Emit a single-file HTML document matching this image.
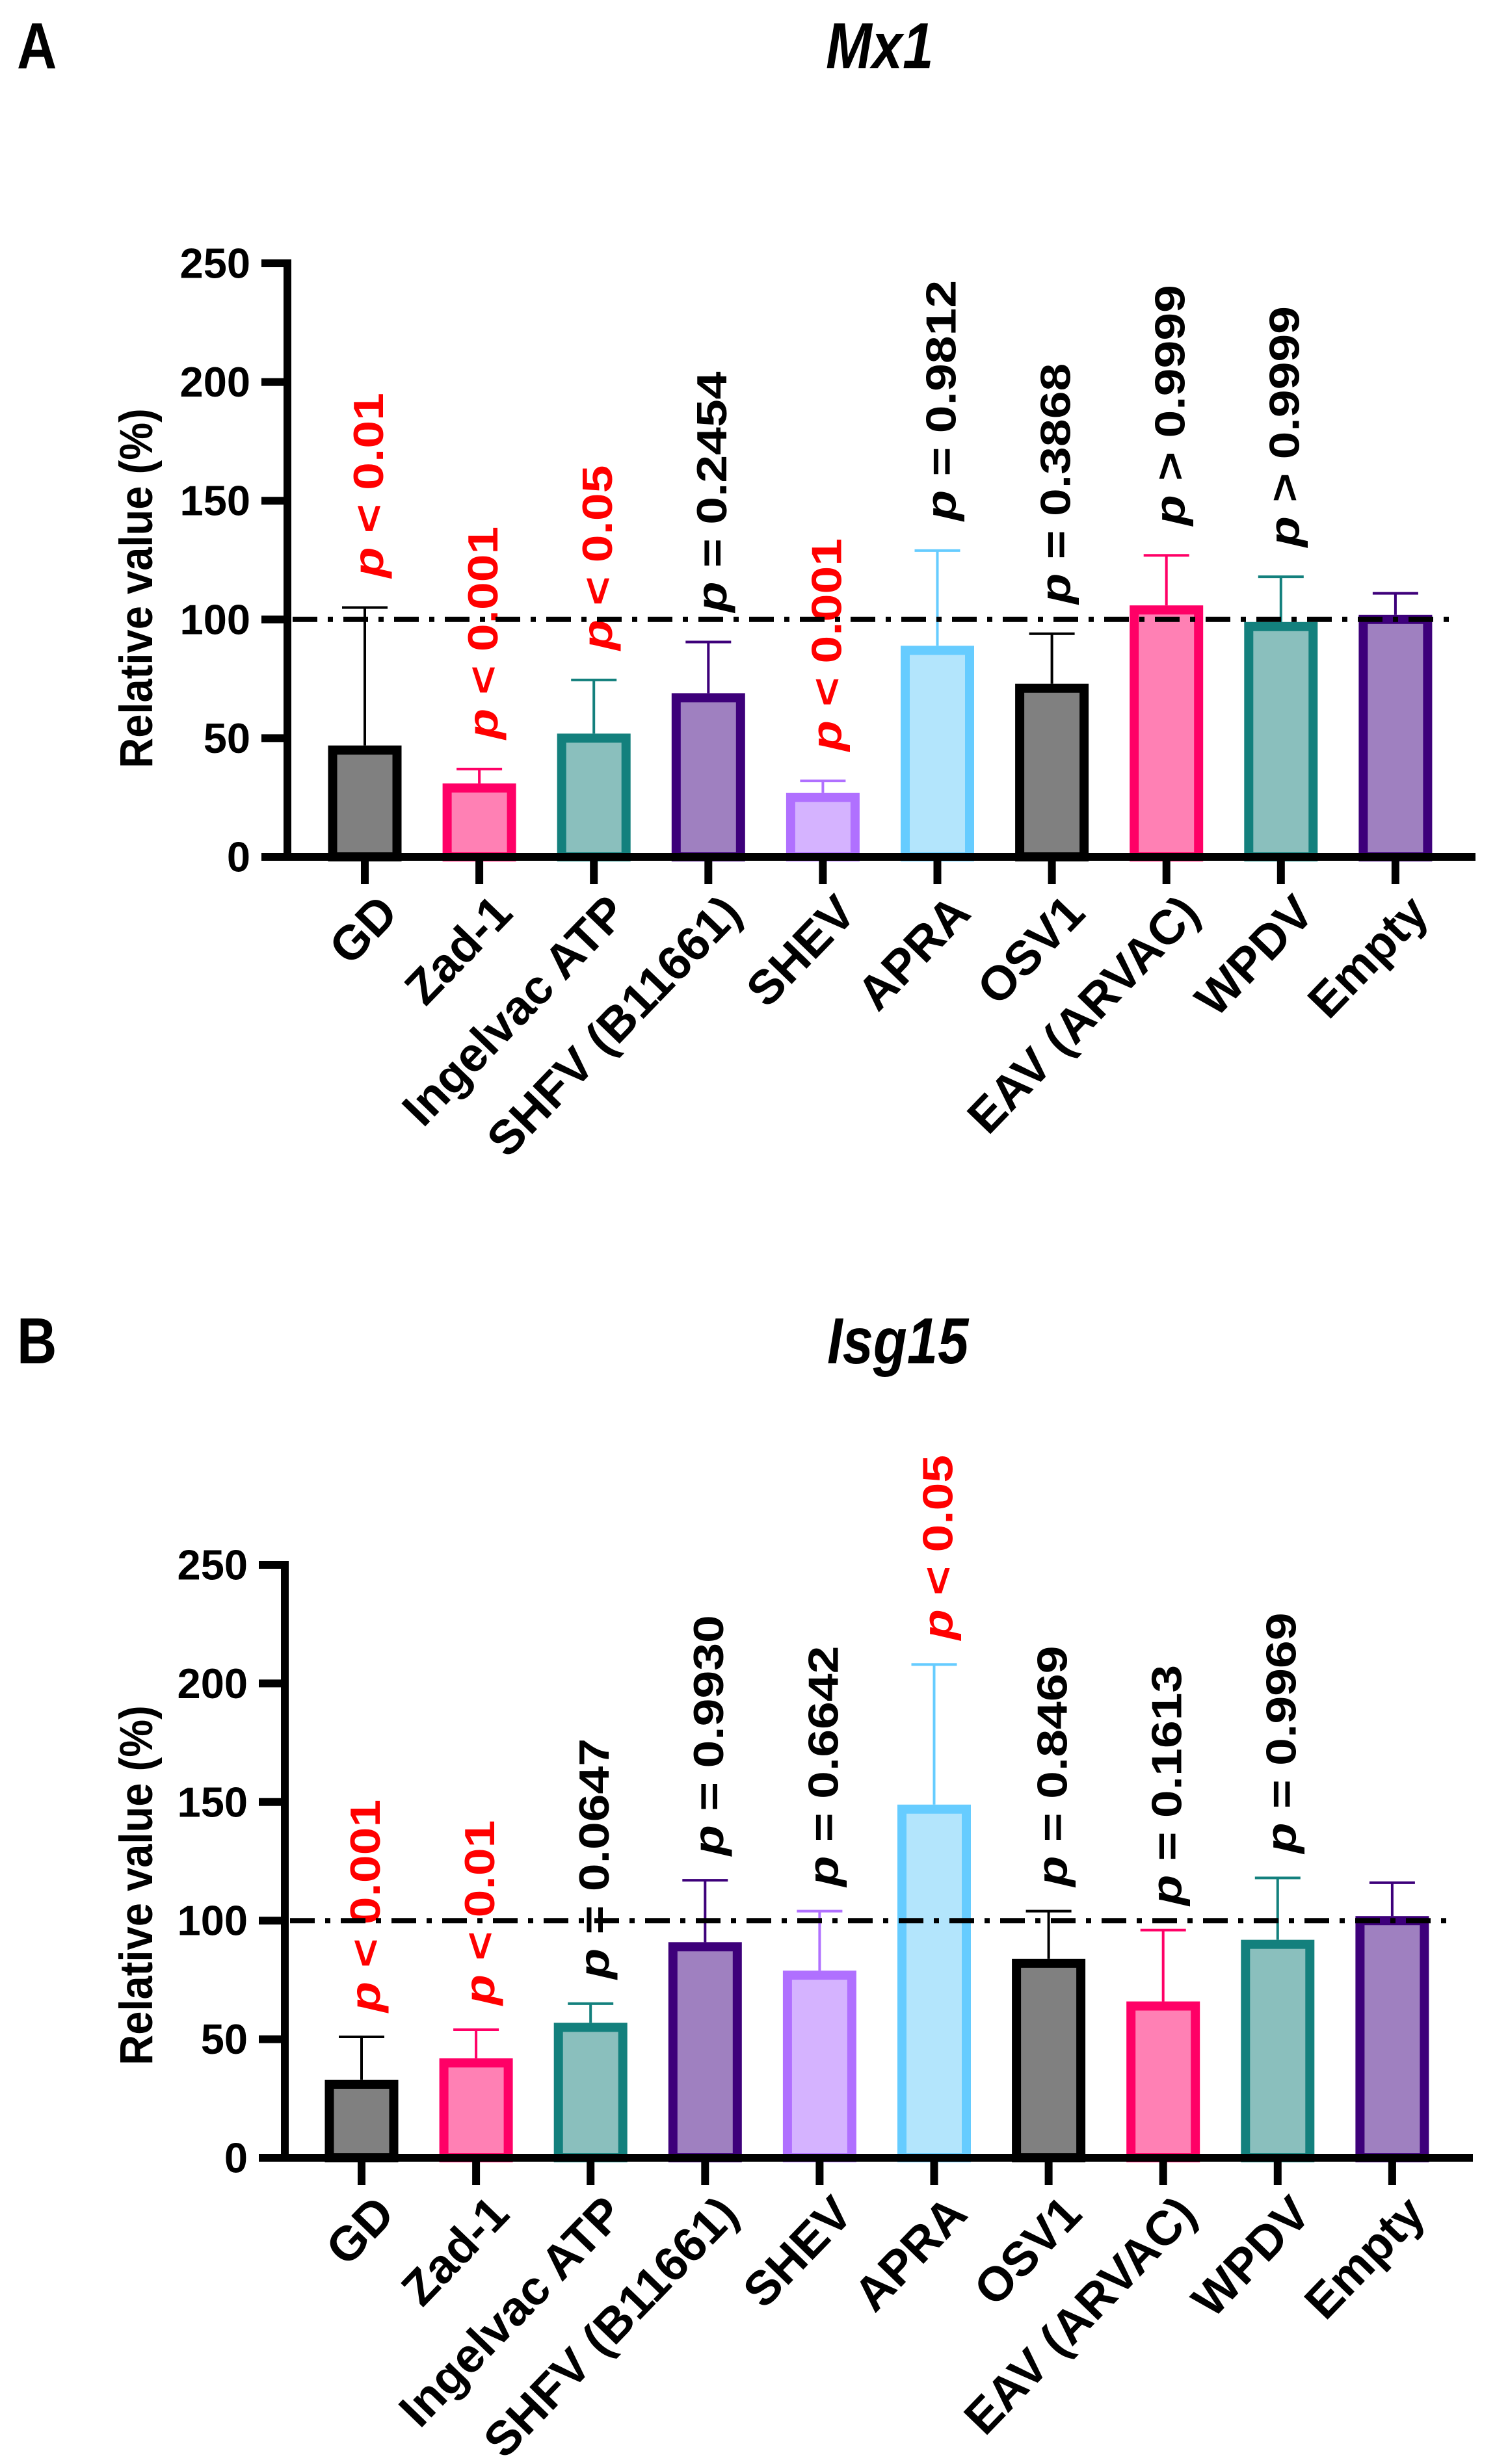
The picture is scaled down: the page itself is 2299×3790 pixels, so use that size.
<!DOCTYPE html>
<html><head><meta charset="utf-8"><style>
html,body{margin:0;padding:0;background:#fff;}
svg{display:block;}
text{font-family:"Liberation Sans",Arial,sans-serif;font-weight:bold;}
</style></head><body>
<svg id="fig" width="2299" height="3790" viewBox="0 0 2299 3790" xmlns="http://www.w3.org/2000/svg">
<text x="0" y="0" font-size="100" transform="translate(26,105) scale(0.85,1)">A</text>
<text x="0" y="0" font-size="100" font-style="italic" transform="translate(1270,105) scale(0.85,1)">Mx1</text>
<text x="0" y="0" font-size="100" transform="translate(26,2097) scale(0.85,1)">B</text>
<text x="0" y="0" font-size="100" font-style="italic" transform="translate(1272,2097) scale(0.85,1)">Isg15</text>
<g id="chartA"></g>
<g id="chartB"></g>
</svg>
<script>
const categories = ["GD","Zad-1","Ingelvac ATP","SHFV (B11661)","SHEV","APRA","OSV1","EAV (ARVAC)","WPDV","Empty"];
const yTicks = [0,50,100,150,200,250];
const yTickLabels = ["0","50","100","150","200","250"];
const mx1Means = [45,29,50,67,25,87,71,104,97,100];
const mx1ErrTops = [105,37,74.5,90.5,32,129,94,127,118,111];
const mx1PLabels = ["< 0.01","< 0.001","< 0.05","= 0.2454","< 0.001","= 0.9812","= 0.3868","> 0.9999","> 0.9999",""];
const mx1Sig = [true,true,true,false,true,false,false,false,false,false];
const isgMeans = [31,40,55,89,77,147,82,64,90,100];
const isgErrTops = [51,54,65,117,104,208,104,96,118,116];
const isgPLabels = ["< 0.001","< 0.01","= 0.0647","= 0.9930","= 0.6642","< 0.05","= 0.8469","= 0.1613","= 0.9969",""];
const isgSig = [true,true,false,false,false,true,false,false,false,false];
const fills = ["#808080","#ff80b4","#8abfbd","#9f80c0","#d5b3ff","#b3e5fc","#808080","#ff80b4","#8abfbd","#9f80c0"];
const strokes = ["#000000","#ff0066","#13807d","#3d007a","#b070ff","#66ccff","#000000","#ff0066","#13807d","#3d007a"];

const NS = "http://www.w3.org/2000/svg";
function mk(parent, tag, attrs){
  const e = document.createElementNS(NS, tag);
  for (const k in attrs) e.setAttribute(k, attrs[k]);
  parent.appendChild(e);
  return e;
}

function drawChart(g, cfg, means, errs, plabels, sig, prefix){
  const yScale = v => cfg.y0 - (v / 250) * (cfg.y0 - cfg.y250);
  const xScale = i => cfg.x0 + i * cfg.step;
  const ya = mk(g, "line", {x1:cfg.ax, y1:cfg.y250 - 6, x2:cfg.ax, y2:cfg.y0 + 6, stroke:"#000", "stroke-width":12});
  
  
  yTicks.forEach((t, i) => {
    const y = yScale(t);
    const tk = mk(g, "line", {x1:cfg.ax - 40, y1:y, x2:cfg.ax, y2:y, stroke:"#000", "stroke-width":12});
    
    
    const tl = mk(g, "text", {x:0, y:0, "font-size":65, "text-anchor":"end", "dominant-baseline":"central",
      transform:`translate(${cfg.ax - 57},${y})`});
    tl.textContent = yTickLabels[i];
    
    
  });
  const yt = mk(g, "text", {x:0, y:0, "font-size":70, "text-anchor":"middle", "dominant-baseline":"central",
    transform:`translate(210,${cfg.yLabelY}) rotate(-90) scale(0.93,1.02)`});
  yt.textContent = "Relative value (%)";
  
  

  means.forEach((v, i) => {
    const cx = xScale(i);
    const yt2 = yScale(v);
    const w = 99;
    const b = mk(g, "rect", {x:cx - w/2, y:yt2, width:w, height:cfg.y0 - yt2, fill:fills[i], stroke:strokes[i], "stroke-width":14});
    
    
    const ye = yScale(errs[i]);
    const el = mk(g, "path", {d:`M${cx},${yt2 - 7} L${cx},${ye} M${cx - 35},${ye} L${cx + 35},${ye}`, stroke:strokes[i], "stroke-width":4, fill:"none"});
    
    
    if (plabels[i]) {
      const pt = mk(g, "text", {x:0, y:0, "font-size":74, "dominant-baseline":"central", fill: sig[i] ? "#ff0000" : "#000",
        transform:`translate(${cx + 6},${ye - cfg.gap}) rotate(-90) scale(1.04,0.88)`});
      const ps = mk(pt, "tspan", {"font-style":"italic"});
      ps.textContent = "p";
      const rs = mk(pt, "tspan", {});
      rs.textContent = " " + plabels[i];
      
      
    }
  });

  const ry = yScale(100);
  const rl = mk(g, "line", {x1:cfg.ax + 8, y1:ry, x2:cfg.xEnd - 28, y2:ry, stroke:"#000", "stroke-width":8, "stroke-dasharray":"38 16 8 16"});
  
  

  const xa = mk(g, "line", {x1:cfg.ax - 40, y1:cfg.y0, x2:cfg.xEnd, y2:cfg.y0, stroke:"#000", "stroke-width":12});
  
  
  categories.forEach((c, i) => {
    const cx = xScale(i);
    const tk = mk(g, "line", {x1:cx, y1:cfg.y0, x2:cx, y2:cfg.y0 + 42, stroke:"#000", "stroke-width":12});
    
    
    const tl = mk(g, "text", {x:0, y:0, "font-size":74, "text-anchor":"end", "dominant-baseline":"central",
      transform:`translate(${cx + 36},${cfg.y0 + 72}) rotate(-46)`});
    tl.textContent = c;
    
    
  });
}

drawChart(document.getElementById('chartA'),
  {ax:442, y0:1318, y250:405, x0:561, step:176.1, xEnd:2269, yLabelY:905, gap:46},
  mx1Means, mx1ErrTops, mx1PLabels, mx1Sig, 'mx1');
drawChart(document.getElementById('chartB'),
  {ax:438, y0:3319, y250:2407, x0:556, step:176.1, xEnd:2265, yLabelY:2900, gap:38},
  isgMeans, isgErrTops, isgPLabels, isgSig, 'isg15');
</script>
</body></html>
